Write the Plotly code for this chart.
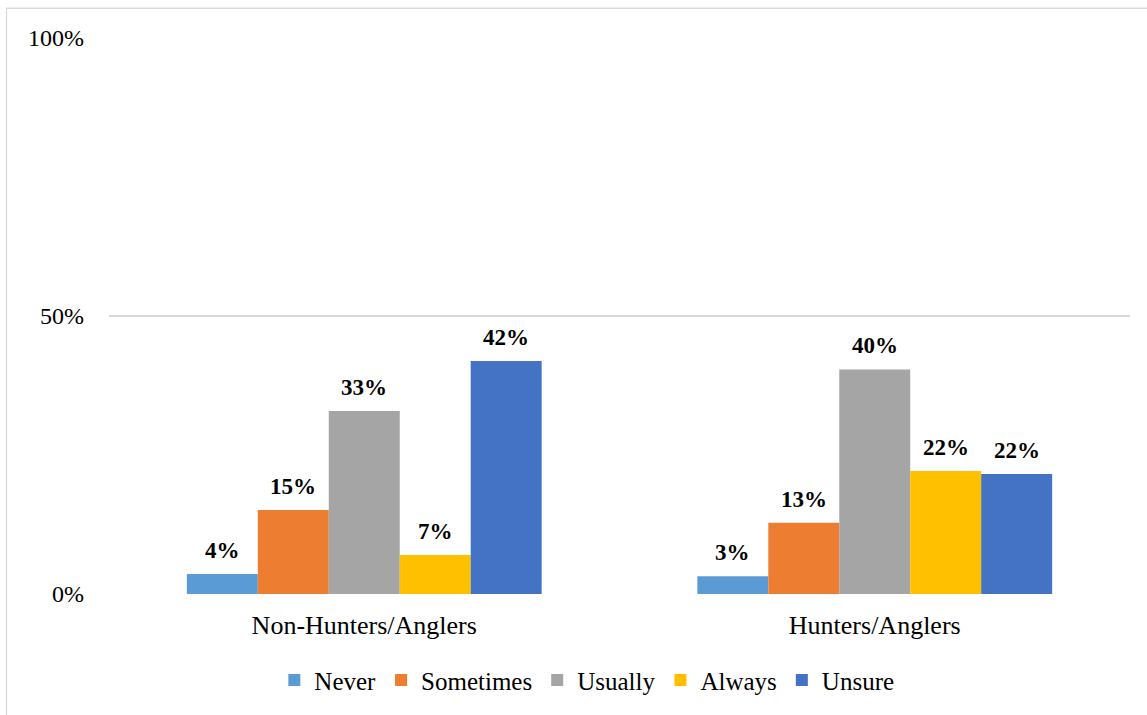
import plotly.graph_objects as go

# Survey responses by group (share of respondents, %)
groups = ["Non-Hunters/Anglers", "Hunters/Anglers"]
responses = ["Never", "Sometimes", "Usually", "Always", "Unsure"]
never = [3.6, 3.2]
sometimes = [15.1, 12.8]
usually = [32.9, 40.4]
always = [7.0, 22.1]
unsure = [41.9, 21.6]
colors = ["#5B9BD5", "#ED7D31", "#A5A5A5", "#FFC000", "#4472C4"]
y_ticks = [0, 50, 100]
y_tick_text = ["0%", "50%", "100%"]

series = [never, sometimes, usually, always, unsure]
FONT = "Liberation Serif, Times New Roman, serif"
BARGAP = 0.305

fig = go.Figure()
for name, vals, col in zip(responses, series, colors):
    fig.add_trace(go.Bar(
        name=name, x=groups, y=vals, marker=dict(color=col, line=dict(width=0)),
    ))

# Value labels above each bar, placed in data coordinates of the category axis
n = len(series)
bar_w = (1 - BARGAP) / n
annotations = []
for i, vals in enumerate(series):
    for g, v in enumerate(vals):
        annotations.append(dict(
            x=g + (i - (n - 1) / 2) * bar_w, y=v, xref="x", yref="y",
            text=f"<b>{v:.0f}%</b>", showarrow=False, yanchor="bottom",
            yshift=9, font=dict(family=FONT, size=23, color="#000000"),
        ))

fig.update_layout(
    width=1147, height=715,
    margin=dict(l=109, r=17, t=38, b=121),
    paper_bgcolor="white", plot_bgcolor="white",
    barmode="group", bargap=BARGAP, bargroupgap=0,
    font=dict(family=FONT, color="#000000"),
    annotations=annotations,
    showlegend=True,
    legend=dict(
        orientation="h", x=0.468, xanchor="center", y=-0.155, yanchor="middle",
        font=dict(family=FONT, size=25, color="#000000"),
        itemclick=False, itemdoubleclick=False,
    ),
    shapes=[dict(
        type="rect", xref="paper", yref="paper",
        x0=-0.1004, x1=1.02, y0=-0.23, y1=1.0535,
        line=dict(color="#D9D9D9", width=1.3), layer="below",
    )],
)
fig.update_xaxes(
    showgrid=False, showline=False, zeroline=False, ticks="",
    tickfont=dict(family=FONT, size=26, color="#000000"),
    ticklabelstandoff=13,
)
fig.update_yaxes(
    range=[0, 100], tickvals=y_ticks, ticktext=y_tick_text,
    showgrid=True, gridcolor="#D9D9D9", gridwidth=1.5,
    zeroline=False, showline=False, ticks="",
    tickfont=dict(family=FONT, size=24, color="#000000"),
    ticklabelstandoff=24,
)

fig.write_html("out.html")
